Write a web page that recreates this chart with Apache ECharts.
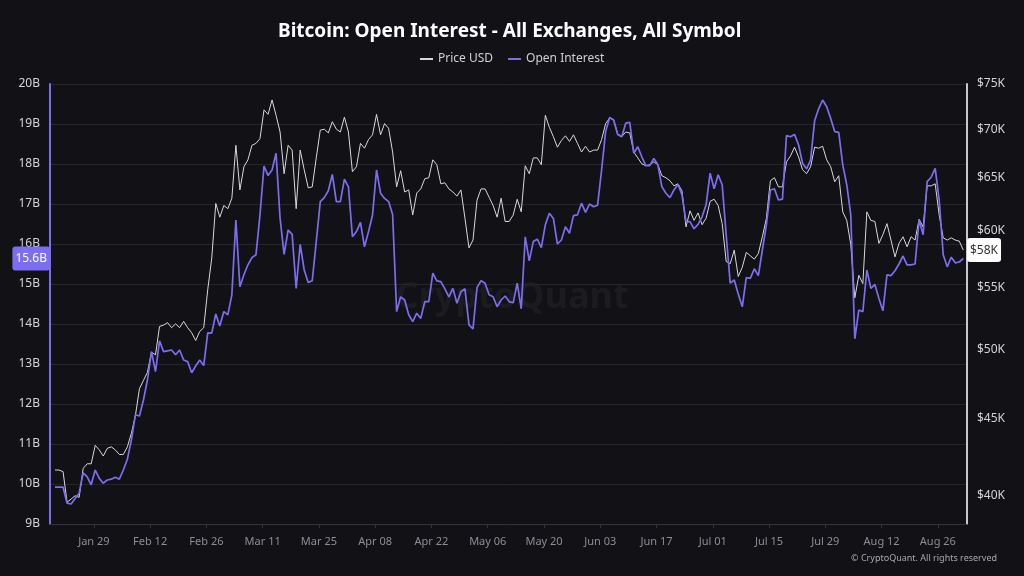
<!DOCTYPE html>
<html><head><meta charset="utf-8">
<script src="https://cdn.jsdelivr.net/npm/echarts@6/dist/echarts.min.js"></script>
<style>html,body{margin:0;padding:0;background:#121116;}#c{width:1024px;height:576px;}</style>
</head><body><div id="c"></div>
<script>
// first daily observation (UTC)
const startDate = [2024, 0, 19];
const tickDates = ['2024-01-29','2024-02-12','2024-02-26','2024-03-11','2024-03-25','2024-04-08','2024-04-22','2024-05-06','2024-05-20','2024-06-03','2024-06-17','2024-07-01','2024-07-15','2024-07-29','2024-08-12','2024-08-26'];
const monthNames = ['Jan','Feb','Mar','Apr','May','Jun','Jul','Aug','Sep','Oct','Nov','Dec'];
// Price USD, thousands
const priceK = [41.6,41.6,41.5,39.6,39.8,40.0,39.9,41.7,42.0,42.0,43.2,42.9,42.5,43.0,43.1,42.9,42.6,42.6,43.1,44.0,
45.2,47.1,47.7,48.3,49.8,49.6,51.8,51.9,52.1,51.7,52.0,51.7,52.2,51.7,51.3,50.7,51.4,51.7,54.8,57.5,
62.5,61.2,62.3,62.0,63.0,68.3,63.8,66.1,66.8,68.3,68.5,69.0,72.1,71.6,73.2,71.5,69.7,65.4,68.3,67.8,
62.0,67.8,65.8,64.0,64.1,67.0,69.9,70.0,69.6,70.8,70.0,69.7,71.3,69.7,65.6,66.1,68.5,68.0,68.9,69.4,
71.6,69.4,70.6,70.1,67.6,64.1,65.7,63.6,63.8,61.4,63.5,63.9,64.9,65.0,66.8,66.3,64.4,64.5,63.9,63.6,
63.2,63.8,61.1,58.4,59.1,62.8,63.9,63.9,63.1,62.3,61.2,63.0,60.8,60.8,61.4,62.9,61.7,66.2,65.4,67.0,
67.0,66.3,71.5,70.2,69.2,68.1,68.8,69.3,68.7,69.4,68.5,67.6,68.2,67.6,67.8,67.8,68.9,70.6,71.2,71.0,
69.5,69.2,69.7,69.6,67.6,67.0,66.4,66.2,66.3,66.6,66.3,65.2,65.0,64.7,64.2,64.4,63.7,60.3,61.8,60.9,
61.6,60.5,61.1,62.7,62.9,62.3,60.6,57.2,57.0,58.2,55.9,56.7,58.0,57.7,57.4,57.9,59.4,61.1,64.7,65.0,
64.1,64.1,66.6,67.2,68.1,67.1,65.8,65.4,66.1,68.1,68.0,68.2,66.8,66.1,64.6,65.2,61.7,60.9,58.7,54.1,
56.0,55.3,61.7,60.9,60.8,58.8,59.6,60.6,59.1,57.6,58.8,59.4,58.5,59.4,59.1,61.0,60.3,64.2,64.2,64.4,
61.4,59.3,59.1,59.3,59.1,59.0,58.2];
// Open Interest, billions USD
const oiB = [9.92,9.92,9.92,9.52,9.5,9.64,9.77,10.28,10.18,9.98,10.35,10.14,10.02,10.1,10.12,10.17,10.12,10.35,10.62,11.1,
11.73,11.7,12.1,12.6,13.31,12.81,13.58,13.31,13.33,13.35,13.23,13.35,13.1,13.06,12.78,12.95,13.1,12.96,13.78,13.77,
14.25,13.95,14.31,14.23,14.73,16.6,14.93,15.23,15.48,15.66,15.73,16.73,17.95,17.71,17.85,18.27,16.64,15.74,16.35,16.24,
14.89,15.99,15.35,15.04,15.08,16.06,17.06,17.16,17.33,17.74,17.06,17.06,17.62,17.43,16.18,16.31,16.54,15.93,16.31,16.72,
17.85,17.27,17.14,17.06,16.74,14.31,14.68,14.6,14.23,14.06,14.27,14.14,14.56,14.56,15.27,15.08,15.06,14.88,14.68,14.89,
14.52,14.81,14.88,13.98,13.88,14.91,15.08,15.02,14.73,14.68,14.43,14.6,14.7,14.56,14.53,15.02,14.38,16.18,15.58,16.06,
16.12,15.91,16.48,16.77,16.64,16.0,16.1,16.43,16.27,16.71,16.73,17.02,16.79,17.0,16.93,16.97,17.85,18.81,19.16,19.1,
18.74,18.68,19.02,19.04,18.27,18.43,18.18,17.96,17.96,18.14,17.98,17.43,17.27,17.16,17.35,17.49,17.23,16.56,16.56,16.38,
16.49,16.68,16.98,17.77,17.38,17.73,17.48,16.23,15.02,15.1,14.75,14.43,15.16,15.14,15.38,15.21,15.85,16.48,17.35,17.38,
17.1,17.12,18.71,18.68,18.74,18.48,18.02,17.88,18.1,19.08,19.38,19.6,19.43,19.14,18.81,18.79,17.98,17.48,16.73,13.63,
14.35,14.31,15.35,14.89,14.99,14.64,14.33,15.23,15.21,15.33,15.5,15.7,15.48,15.48,15.5,16.6,16.23,17.56,17.67,17.89,
17.1,15.73,15.43,15.67,15.53,15.55,15.64];
const rightTicksK = [40,45,50,55,60,65,70,75];

const FONT = 'Noto Sans';
const PURPLE = '#7b6ef0';
const WHITE = '#d8d8dc';

function dayTs(i){ return Date.UTC(startDate[0], startDate[1], startDate[2] + i, 8); }
function parseDay(s){ const p = s.split('-').map(Number); return Date.UTC(p[0], p[1]-1, p[2]); }
const priceData = priceK.map((v,i)=>[dayTs(i), v]);
const oiData = oiB.map((v,i)=>[dayTs(i), v]);
const tickTs = tickDates.map(parseDay);

function fmtDate(v){ const d = new Date(v); const dd = d.getUTCDate(); return monthNames[d.getUTCMonth()] + ' ' + (dd<10?'0':'') + dd; }

const chart = echarts.init(document.getElementById('c'), null, {renderer:'canvas'});
chart.setOption({
  backgroundColor: '#121116',
  animation: false,
  textStyle: { fontFamily: FONT },
  title: {
    text: 'Bitcoin: Open Interest - All Exchanges, All Symbol',
    left: 273, top: 17,
    textStyle: { color: '#ffffff', fontSize: 19, fontWeight: 'bold', fontFamily: FONT }
  },
  legend: {
    top: 48, left: 415, itemWidth: 13, itemHeight: 2, itemGap: 15,
    icon: 'rect',
    textStyle: { color: '#d0d0d4', fontSize: 12, fontFamily: FONT },
    data: ['Price USD', 'Open Interest']
  },
  axisPointer: { triggerOn: 'none' },
  grid: { left: 50, right: 57, top: 84, bottom: 52 },
  xAxis: {
    type: 'value',
    min: Date.UTC(2024,0,18,2), max: Date.UTC(2024,8,2,6),
    axisLine: { show: true, lineStyle: { color: '#35343b', width: 1 } },
    axisTick: { show: true, length: 4, lineStyle: { color: '#35343b' }, customValues: tickTs },
    axisLabel: { color: '#8e8d95', fontSize: 11, margin: 12, customValues: tickTs, formatter: fmtDate, fontFamily: FONT },
    splitLine: { show: false }
  },
  yAxis: [
    {
      type: 'value', min: 9, max: 20, interval: 1, position: 'left',
      axisLine: { show: true, lineStyle: { color: PURPLE, width: 2 } },
      axisTick: { show: false },
      axisLabel: { color: '#d4d4d8', fontSize: 12, margin: 10, formatter: v => v + 'B', fontFamily: FONT },
      splitLine: { show: true, lineStyle: { color: '#26252c', width: 1 } },
      axisPointer: {
        show: true, type: 'line', value: oiB[oiB.length-1], status: 'show', triggerTooltip: false,
        lineStyle: { opacity: 0 },
        label: { show: true, formatter: p => (Math.floor(p.value*10)/10).toFixed(1) + 'B', backgroundColor: PURPLE, color: '#ffffff', fontSize: 12, padding: [6,3,6,3], fontFamily: FONT, margin: 0 }
      }
    },
    {
      type: 'log', logBase: 10, min: 38.31, max: 75, position: 'right',
      axisLine: { show: true, lineStyle: { color: '#c8c8cc', width: 2 } },
      axisTick: { show: false, customValues: rightTicksK },
      axisLabel: { color: '#d4d4d8', fontSize: 12, margin: 10, customValues: rightTicksK, formatter: v => '$' + Math.round(v) + 'K', fontFamily: FONT },
      splitLine: { show: false },
      axisPointer: {
        show: true, type: 'line', value: priceK[priceK.length-1], status: 'show', triggerTooltip: false,
        lineStyle: { opacity: 0 },
        label: { show: true, formatter: p => '$' + Math.round(p.value) + 'K', backgroundColor: '#ffffff', color: '#333333', fontSize: 12, padding: [6,3,6,3], fontFamily: FONT, margin: 0 }
      }
    }
  ],
  graphic: [
    { type: 'text', left: 'center', top: 280, z: 0, style: { text: 'CryptoQuant', fill: 'rgba(255,255,255,0.045)', font: 'bold 36px ' + FONT } },
    { type: 'text', right: 27, top: 554, style: { text: '© CryptoQuant. All rights reserved', fill: '#a9a8ae', font: '9px ' + FONT } }
  ],
  series: [
    { name: 'Price USD', type: 'line', yAxisIndex: 1, data: priceData, showSymbol: false, symbol: 'none',
      lineStyle: { color: WHITE, width: 1 }, itemStyle: { color: WHITE } },
    { name: 'Open Interest', type: 'line', yAxisIndex: 0, data: oiData, showSymbol: false, symbol: 'none',
      lineStyle: { color: PURPLE, width: 1.7 }, itemStyle: { color: PURPLE } }
  ]
});
</script>
</body></html>
